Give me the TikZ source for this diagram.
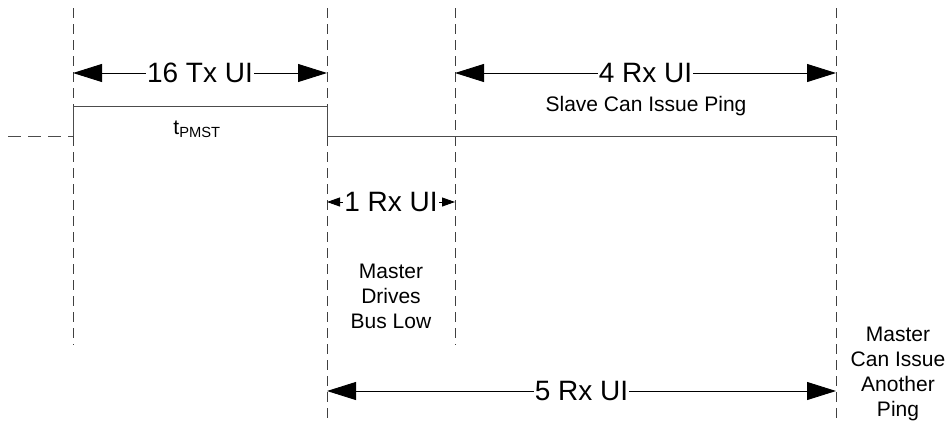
\documentclass[tikz,border=0pt]{standalone}
\usepackage{fontspec}
\setmainfont{Liberation Sans}
\usetikzlibrary{arrows.meta}
\begin{document}
\begin{tikzpicture}[x=1pt,y=-1pt,
  guide/.style={draw=black!75, line width=0.9pt, dash pattern=on 10pt off 6pt},
  sig/.style={draw=black!70, line width=1pt},
  dimline/.style={draw=black, line width=0.9pt, {Triangle[length=29pt,width=18pt]}-{Triangle[length=29pt,width=18pt]}},
  smalldim/.style={draw=black, line width=0.9pt, {Triangle[length=13pt,width=9pt]}-{Triangle[length=13pt,width=9pt]}},
  big/.style={font=\fontsize{28}{30}\selectfont, fill=white, inner sep=1pt},
  lbl/.style={font=\fontsize{21}{25}\selectfont, align=center, inner sep=0pt}]
\useasboundingbox (0,0) rectangle (949,426);
% guides
\coordinate (g1t) at (73,8);   \coordinate (g1b) at (73,345);
\coordinate (g2t) at (327,8);  \coordinate (g2b) at (327,420);
\coordinate (g3t) at (455,8);  \coordinate (g3b) at (455,345);
\coordinate (g4t) at (836,8);  \coordinate (g4b) at (836,420);
\draw[guide] (g1t) -- (g1b);
\draw[guide] (g2t) -- (g2b);
\draw[guide] (g3t) -- (g3b);
\draw[guide] (g4t) -- (g4b);
% signal
\coordinate (s0) at (8,136);
\coordinate (s1) at (73,136);
\coordinate (s2) at (73,106);
\coordinate (s3) at (327,106);
\coordinate (s4) at (327,136);
\coordinate (s5) at (836,136);
\draw[sig, dash pattern=on 13pt off 7pt] (s0) -- (s1);
\draw[sig] (s1) -- (s2) -- (s3) -- (s4) -- (s5);
% dimensions
\coordinate (d1l) at (73,73);  \coordinate (d1r) at (327,73);
\coordinate (d2l) at (455,73); \coordinate (d2r) at (836,73);
\coordinate (d3l) at (327,202); \coordinate (d3r) at (455,202);
\coordinate (d4l) at (327,391); \coordinate (d4r) at (836,391);
\draw[dimline] (d1l) -- node[big] (t16) {16 Tx UI} (d1r);
\draw[dimline] (d2l) -- node[big] (t4) {4 Rx UI} (d2r);
\draw[smalldim] (d3l) -- node[big] (t1) {1 Rx UI} (d3r);
\draw[dimline] (d4l) -- node[big] (t5) {5 Rx UI} (d4r);
% labels
\node[lbl] (tp) at (197,129) {t\textsubscript{PMST}};
\node[lbl] (slave) at (646,106) {Slave Can Issue Ping};
\node[lbl] (mdb) at (391,296) {Master\\Drives\\Bus Low};
\node[lbl] (mci) at (898,374) {Master\\Can Issue\\Another\\Ping};
\end{tikzpicture}
\end{document}
